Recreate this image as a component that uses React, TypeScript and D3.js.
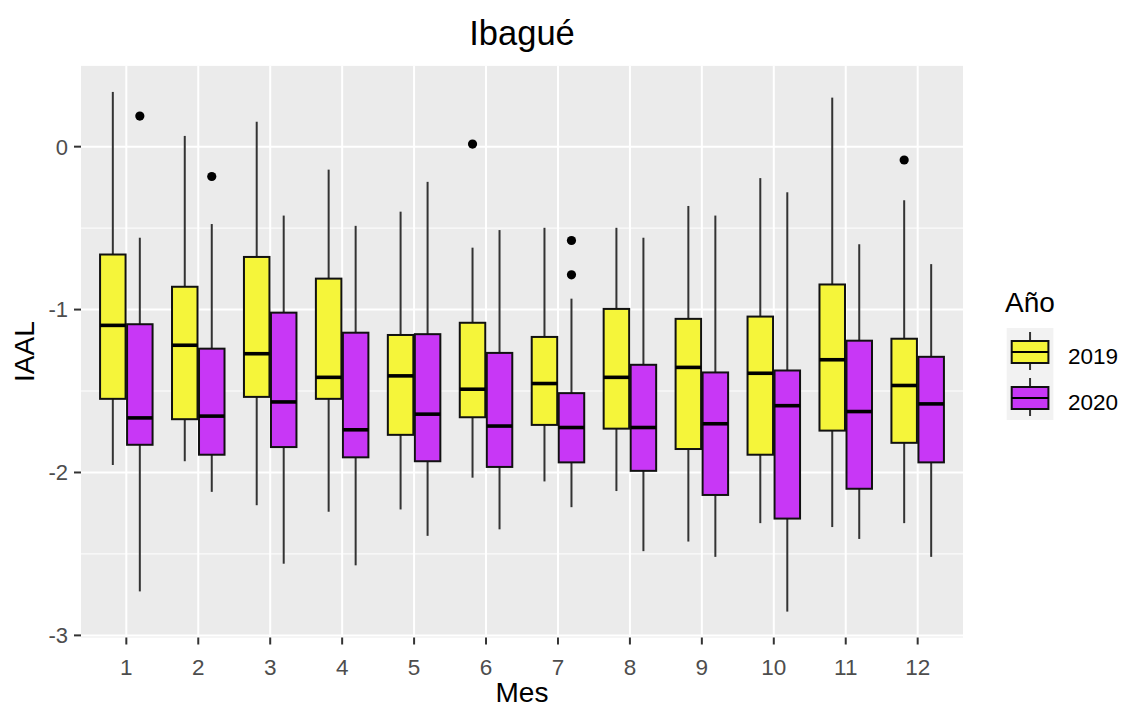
import React from "react";
import * as d3 from "d3";

const months = [1, 2, 3, 4, 5, 6, 7, 8, 9, 10, 11, 12];
const years = ["2019", "2020"];
const colors = ["#F5F53A", "#C837F6"];

// [whiskerLow, q1, median, q3, whiskerHigh]
const stats2019 = [
  [-1.954, -1.548, -1.097, -0.662, 0.336],
  [-1.931, -1.673, -1.219, -0.86, 0.066],
  [-2.201, -1.536, -1.271, -0.677, 0.153],
  [-2.241, -1.548, -1.416, -0.81, -0.141],
  [-2.227, -1.769, -1.407, -1.156, -0.399],
  [-2.032, -1.661, -1.489, -1.081, -0.62],
  [-2.055, -1.708, -1.454, -1.168, -0.498],
  [-2.114, -1.731, -1.416, -0.996, -0.498],
  [-2.424, -1.856, -1.355, -1.057, -0.364],
  [-2.311, -1.891, -1.391, -1.043, -0.193],
  [-2.335, -1.743, -1.308, -0.846, 0.301],
  [-2.311, -1.818, -1.466, -1.179, -0.329],
];
const stats2020 = [
  [-2.73, -1.83, -1.665, -1.09, -0.559],
  [-2.119, -1.891, -1.654, -1.24, -0.475],
  [-2.56, -1.844, -1.567, -1.019, -0.423],
  [-2.57, -1.907, -1.738, -1.142, -0.486],
  [-2.389, -1.931, -1.642, -1.151, -0.216],
  [-2.349, -1.966, -1.715, -1.266, -0.512],
  [-2.213, -1.938, -1.724, -1.513, -0.933],
  [-2.483, -1.99, -1.724, -1.339, -0.559],
  [-2.518, -2.138, -1.701, -1.386, -0.423],
  [-2.854, -2.283, -1.59, -1.374, -0.28],
  [-2.408, -2.1, -1.626, -1.191, -0.599],
  [-2.518, -1.938, -1.579, -1.29, -0.721],
];
// outliers: [month, yearIndex, value]
const outliers = [
  [1, 1, 0.188],
  [2, 1, -0.183],
  [6, 0, 0.016],
  [7, 1, -0.576],
  [7, 1, -0.787],
  [12, 0, -0.082],
];
const yTicks = [0, -1, -2, -3];
const yMinor = [0.5, -0.5, -1.5, -2.5];

const W = 1125;
const H = 709;
const P = { left: 81, right: 963, top: 65.7, bottom: 637.5 };
const FONT = "'Liberation Sans', Arial, sans-serif";

export default function App() {
  const x = d3.scaleLinear().domain([0.37, 12.63]).range([P.left, P.right]);
  const y = d3.scaleLinear().domain([-3.013, 0.497]).range([P.bottom, P.top]);
  const boxW = 25.5;
  const off = 13.5;
  const allStats = [stats2019, stats2020];

  return (
    <svg width={W} height={H} style={{ position: "absolute", left: 0, top: 0, background: "#fff" }}>
      <rect x={0} y={0} width={W} height={H} fill="#fff" />
      <rect x={P.left} y={P.top} width={P.right - P.left} height={P.bottom - P.top} fill="#EBEBEB" />
      {yMinor.map((v) => (
        <line key={"mn" + v} x1={P.left} x2={P.right} y1={y(v)} y2={y(v)} stroke="#fff" strokeWidth={1} />
      ))}
      {yTicks.map((v) => (
        <line key={"mj" + v} x1={P.left} x2={P.right} y1={y(v)} y2={y(v)} stroke="#fff" strokeWidth={2} />
      ))}
      {months.map((m) => (
        <line key={"vx" + m} x1={x(m)} x2={x(m)} y1={P.top} y2={P.bottom} stroke="#fff" strokeWidth={2} />
      ))}
      {allStats.map((stats, yi) =>
        stats.map((s, i) => {
          const cx = x(months[i]) + (yi === 0 ? -off : off);
          return (
            <g key={"b" + yi + "-" + i}>
              <line x1={cx} x2={cx} y1={y(s[4])} y2={y(s[3])} stroke="#333" strokeWidth={2} />
              <line x1={cx} x2={cx} y1={y(s[1])} y2={y(s[0])} stroke="#333" strokeWidth={2} />
              <rect
                x={cx - boxW / 2}
                y={y(s[3])}
                width={boxW}
                height={y(s[1]) - y(s[3])}
                fill={colors[yi]}
                stroke="#111"
                strokeWidth={2}
              />
              <line x1={cx - boxW / 2} x2={cx + boxW / 2} y1={y(s[2])} y2={y(s[2])} stroke="#000" strokeWidth={3.6} />
            </g>
          );
        })
      )}
      {outliers.map((o, i) => (
        <circle key={"o" + i} cx={x(o[0]) + (o[1] === 0 ? -off : off)} cy={y(o[2])} r={4.6} fill="#000" />
      ))}
      {/* y axis */}
      {yTicks.map((v) => (
        <g key={"yt" + v}>
          <line x1={P.left - 7} x2={P.left} y1={y(v)} y2={y(v)} stroke="#333" strokeWidth={2} />
          <text x={P.left - 13} y={y(v)} dy="0.36em" textAnchor="end" fontSize={22} fill="#4D4D4D" fontFamily={FONT}>
            {d3.format("d")(v).replace("−", "-")}
          </text>
        </g>
      ))}
      {/* x axis */}
      {months.map((m) => (
        <g key={"xt" + m}>
          <line x1={x(m)} x2={x(m)} y1={P.bottom} y2={P.bottom + 7} stroke="#333" strokeWidth={2} />
          <text x={x(m)} y={675} textAnchor="middle" fontSize={22.5} fill="#4D4D4D" fontFamily={FONT}>
            {m}
          </text>
        </g>
      ))}
      <text x={(P.left + P.right) / 2} y={702} textAnchor="middle" fontSize={28} fill="#000" fontFamily={FONT}>
        Mes
      </text>
      <text
        transform={`translate(34, ${(P.top + P.bottom) / 2}) rotate(-90)`}
        textAnchor="middle"
        fontSize={28}
        fill="#000"
        fontFamily={FONT}
      >
        IAAL
      </text>
      <text x={(P.left + P.right) / 2} y={45} textAnchor="middle" fontSize={34.5} fill="#000" fontFamily={FONT}>
        Ibagué
      </text>
      {/* legend */}
      <text x={1005} y={312} fontSize={28} fill="#000" fontFamily={FONT}>
        Año
      </text>
      {years.map((yr, i) => {
        const top = 328 + i * 46;
        const kx = 1006.7;
        const kw = 46.7;
        const cx = kx + kw / 2;
        return (
          <g key={"lg" + yr}>
            <rect x={kx} y={top} width={kw} height={46} fill="#F2F2F2" />
            <line x1={cx} x2={cx} y1={top + 4} y2={top + 42} stroke="#333" strokeWidth={2} />
            <rect x={kx + 5} y={top + 13} width={kw - 10} height={22} fill={colors[i]} stroke="#111" strokeWidth={2} />
            <line x1={kx + 5} x2={kx + kw - 5} y1={top + 24} y2={top + 24} stroke="#000" strokeWidth={2} />
            <text x={1068} y={top + 28} dy="0.36em" fontSize={22.5} fill="#000" fontFamily={FONT}>
              {yr}
            </text>
          </g>
        );
      })}
    </svg>
  );
}
